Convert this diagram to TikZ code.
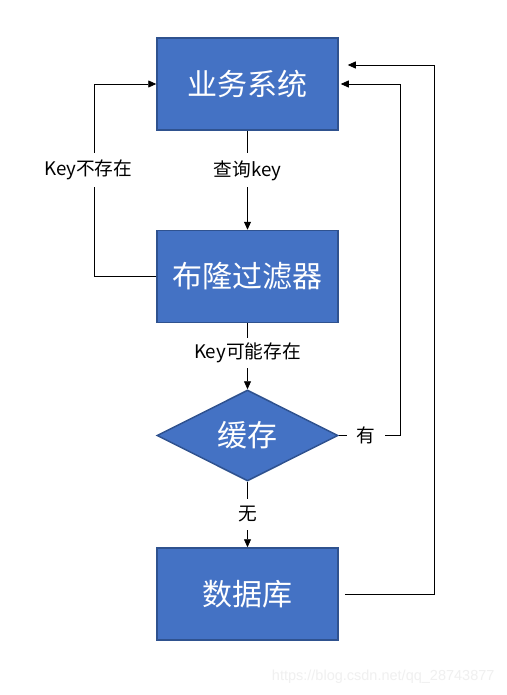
\documentclass[tikz,border=0pt]{standalone}
\usepackage{fontspec}
\setmainfont{Noto Sans CJK SC}
\newfontfamily\wmfont{Liberation Sans}
\usetikzlibrary{arrows.meta,shapes.geometric,calc}
\definecolor{boxfill}{HTML}{4472C4}
\definecolor{boxline}{HTML}{2F528F}
\begin{document}
\begin{tikzpicture}[x=1pt,y=-1pt,
  box/.style={draw=boxline,fill=boxfill,line width=1.5pt,minimum width=181pt,minimum height=92pt,inner sep=0pt,text=white,font=\fontsize{30}{32}\selectfont},
  dia/.style={diamond,draw=boxline,fill=boxfill,line width=1.5pt,minimum width=181pt,minimum height=91pt,inner sep=0pt,aspect=2,text=white,font=\fontsize{30}{32}\selectfont},
  arr/.style={draw=black,line width=0.8pt,-{Triangle[length=8pt,width=7pt]}},
  lbl/.style={fill=white,text=black,font=\fontsize{18.7}{20}\selectfont,inner sep=3pt}]
\useasboundingbox (0,0) rectangle (506,695);
\fill[white] (0,0) rectangle (506,695);
\node[box] (b1) at (247.5,84) {业务系统};
\node[box] (b2) at (247.5,276.5) {布隆过滤器};
\node[dia] (d) at (247.5,435.5) {缓存};
\node[box] (b3) at (247.5,594) {数据库};
\draw[arr] (b1) -- node[lbl,pos=0.4,inner ysep=7pt] {查询key} (b2);
\draw[arr] (b2) -- node[lbl,pos=0.45,inner ysep=5pt] {Key可能存在} (d);
\draw[arr] (d) -- node[lbl,pos=0.5,inner ysep=8pt] {无} (b3);
\draw[arr] (b2.west) -- ++(-62,0) |- node[lbl,pos=0.276,xshift=-6pt,inner ysep=7pt] {Key不存在} (b1.west);
\draw[arr,shorten >=2pt] (d.east) -- node[lbl,pos=0.44,inner xsep=10pt] {有} ++(62,0) |- (b1.east);
\draw[arr,shorten <=6pt,shorten >=9pt] (b3.east) -- ++(96,0) |- ($(b1.east)+(0,-19)$);
\node[text=black!6,font=\wmfont\fontsize{14.5}{16}\selectfont,anchor=east] (wm) at (498,677) {https://blog.csdn.net/qq\_28743877};
\end{tikzpicture}
\end{document}
